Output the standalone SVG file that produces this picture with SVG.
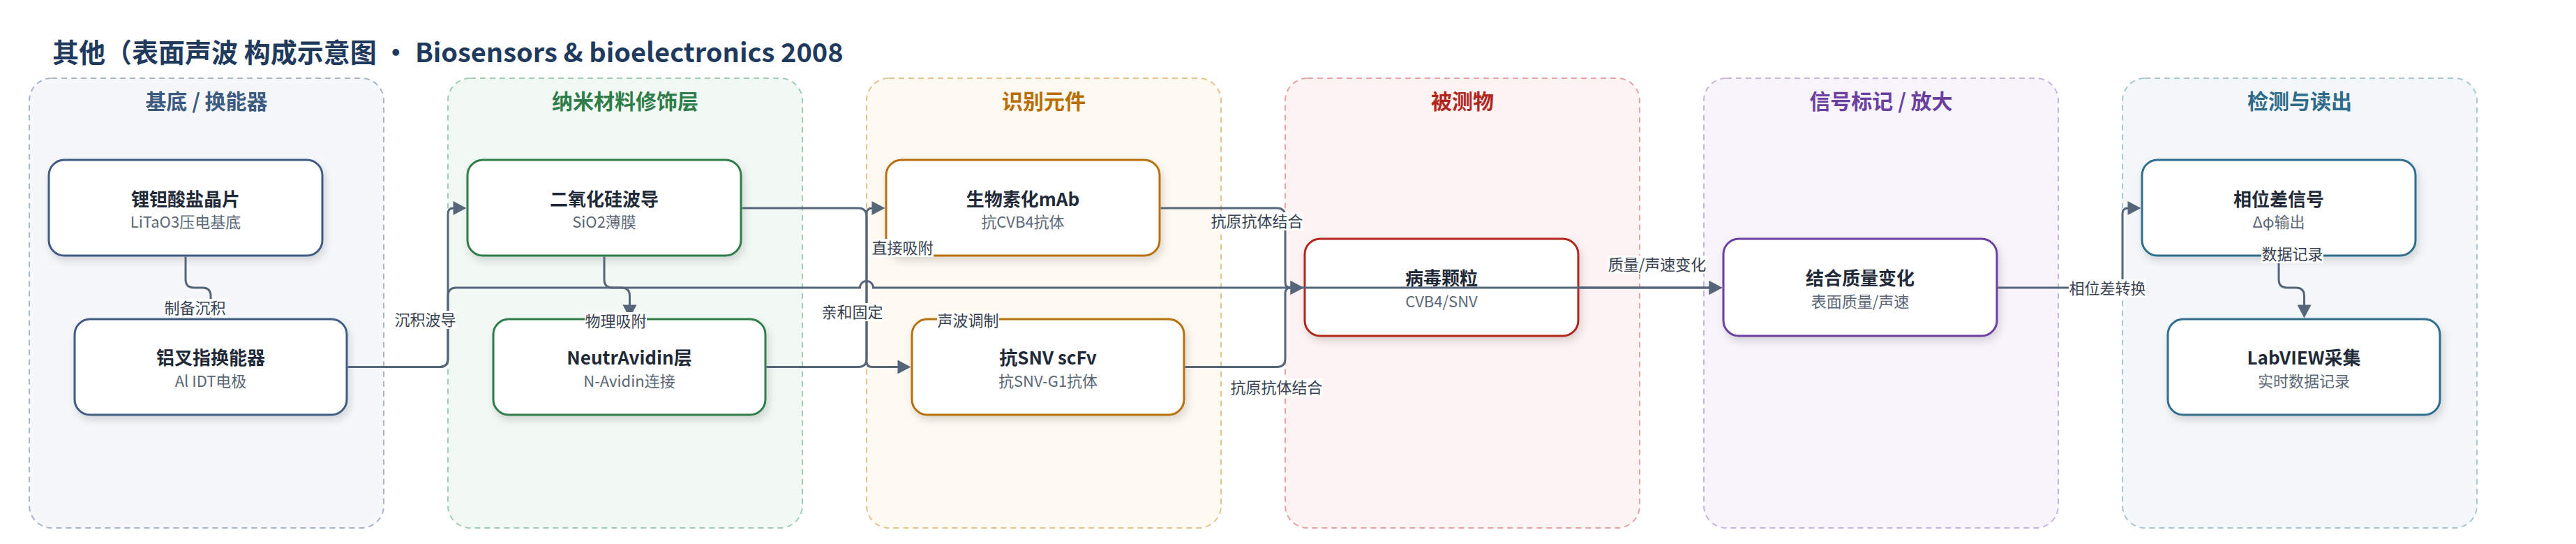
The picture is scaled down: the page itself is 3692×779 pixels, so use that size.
<svg xmlns="http://www.w3.org/2000/svg" width="3692" height="779" viewBox="0 0 3692 779">
<defs>
<style>
text{font-family:"Noto Sans CJK SC","Noto Sans",sans-serif}
.title{font-size:38px;font-weight:700;fill:#1f3a5c}
.ct{font-size:30px;font-weight:700;text-anchor:middle}
.cl{stroke-width:2;stroke-dasharray:8 6}
.nd{fill:#fff;stroke-width:3;filter:url(#sh)}
.nt{font-size:26px;font-weight:700;fill:#1f2937;text-anchor:middle}
.ns{font-size:22px;fill:#5b6776;text-anchor:middle}
.e{fill:none;stroke:#56667a;stroke-width:3}
.ea{marker-end:url(#arr)}
.lb{fill:#fff}
.lt{font-size:22px;fill:#374151;text-anchor:middle}
</style>
<filter id="sh" x="-10%" y="-20%" width="120%" height="150%">
<feDropShadow dx="3" dy="6" stdDeviation="6" flood-color="#000" flood-opacity="0.14"/>
</filter>
<marker id="arr" markerUnits="userSpaceOnUse" markerWidth="20" markerHeight="20" viewBox="0 0 19 20" refX="9" refY="10" orient="auto">
<path d="M0,0 L19,10 L0,20 z" fill="#56667a"/>
</marker>
</defs>
<rect width="3692" height="779" fill="#fff"/>
<text class="title" x="75" y="89">其他（表面声波 构成示意图 · Biosensors &amp; bioelectronics 2008</text>

<g id="clusters">
<g id="cluster-substrate"><rect class="cl" x="42" y="112" width="508" height="644" rx="32" fill="#f5f7fb" stroke="#a7b5c9"/><text class="ct" x="296" y="156" fill="#3d5a80">基底 / 换能器</text></g>
<g id="cluster-nano"><rect class="cl" x="642" y="112" width="508" height="644" rx="32" fill="#f2f8f4" stroke="#9fcfb0"/><text class="ct" x="896" y="156" fill="#2e7d4a">纳米材料修饰层</text></g>
<g id="cluster-recog"><rect class="cl" x="1242" y="112" width="508" height="644" rx="32" fill="#fef9f1" stroke="#e6c38d"/><text class="ct" x="1496" y="156" fill="#b86e00">识别元件</text></g>
<g id="cluster-analyte"><rect class="cl" x="1842" y="112" width="508" height="644" rx="32" fill="#fdf3f3" stroke="#e7a3a3"/><text class="ct" x="2096" y="156" fill="#b3261e">被测物</text></g>
<g id="cluster-signal"><rect class="cl" x="2442" y="112" width="508" height="644" rx="32" fill="#f7f4fc" stroke="#c9b3e3"/><text class="ct" x="2696" y="156" fill="#6b3fa0">信号标记 / 放大</text></g>
<g id="cluster-readout"><rect class="cl" x="3042" y="112" width="508" height="644" rx="32" fill="#f3f7f9" stroke="#a9c6d3"/><text class="ct" x="3296" y="156" fill="#2e6b8a">检测与读出</text></g>
</g>

<g id="node-litao3"><rect class="nd" x="70" y="229" width="392" height="137" rx="22" stroke="#3f5c84"/><text class="nt" x="266" y="294.5">锂钽酸盐晶片</text><text class="ns" x="266" y="326">LiTaO3压电基底</text></g>
<g id="node-idt"><rect class="nd" x="107" y="457" width="390" height="137" rx="22" stroke="#3f5c84"/><text class="nt" x="302" y="522">铝叉指换能器</text><text class="ns" x="302" y="553.5">Al IDT电极</text></g>
<g id="node-sio2"><rect class="nd" x="670" y="229" width="392" height="137" rx="22" stroke="#2f7d4a"/><text class="nt" x="866" y="294.5">二氧化硅波导</text><text class="ns" x="866" y="326">SiO2薄膜</text></g>
<g id="node-neutravidin"><rect class="nd" x="707" y="457" width="390" height="137" rx="22" stroke="#2f7d4a"/><text class="nt" x="902" y="522">NeutrAvidin层</text><text class="ns" x="902" y="553.5">N-Avidin连接</text></g>
<g id="node-mab"><rect class="nd" x="1270" y="229" width="392" height="137" rx="22" stroke="#b8700a"/><text class="nt" x="1466" y="294.5">生物素化mAb</text><text class="ns" x="1466" y="326">抗CVB4抗体</text></g>
<g id="node-scfv"><rect class="nd" x="1307" y="457" width="390" height="137" rx="22" stroke="#b8700a"/><text class="nt" x="1502" y="522">抗SNV scFv</text><text class="ns" x="1502" y="553.5">抗SNV-G1抗体</text></g>
<g id="node-virus"><rect class="nd" x="1870" y="342" width="392" height="139" rx="22" stroke="#b3261e"/><text class="nt" x="2066" y="408">病毒颗粒</text><text class="ns" x="2066" y="440">CVB4/SNV</text></g>
<g id="node-mass"><rect class="nd" x="2470" y="342" width="392" height="139" rx="22" stroke="#6a3fa0"/><text class="nt" x="2666" y="408">结合质量变化</text><text class="ns" x="2666" y="440">表面质量/声速</text></g>
<g id="node-phase"><rect class="nd" x="3070" y="229" width="392" height="137" rx="22" stroke="#2f6d8c"/><text class="nt" x="3266" y="294.5">相位差信号</text><text class="ns" x="3266" y="326">Δφ输出</text></g>
<g id="node-labview"><rect class="nd" x="3107" y="457" width="390" height="137" rx="22" stroke="#2f6d8c"/><text class="nt" x="3302" y="522">LabVIEW采集</text><text class="ns" x="3302" y="553.5">实时数据记录</text></g>

<g id="connectors">
<path class="e ea" d="M266,367.5 V400 Q266,412 278,412 H290 Q302,412 302,424 V445.5"/>
<path class="e ea" d="M498.5,525.5 H630 Q642,525.5 642,513.5 V306 Q642,298 650,298 H658.5"/>
<path class="e ea" d="M498.5,525.5 H630 Q642,525.5 642,513.5 V424 Q642,412 654,412 H1232.5 A9.5,9.5 0 0 1 1251.5,412 H2458.5"/>
<path class="e ea" d="M866,367.5 V400 Q866,412 878,412 H890.5 Q902.5,412 902.5,424 V445.5"/>
<path class="e ea" d="M1063.5,298 H1230 Q1242,298 1242,310 V517.5 Q1242,525.5 1250,525.5 H1295.5"/>
<path class="e ea" d="M1098.5,525.5 H1230 Q1242,525.5 1242,513.5 V306 Q1242,298 1250,298 H1258.5"/>
<path class="e ea" d="M1663.5,298 H1830 Q1842,298 1842,310 V404 Q1842,412 1850,412 H1858.5"/>
<path class="e ea" d="M1698.5,525.5 H1830 Q1842,525.5 1842,513.5 V420 Q1842,412 1850,412 H1858.5"/>
<path class="e ea" d="M2263.5,412 H2458.5"/>
<path class="e ea" d="M2863.5,412 H3030 Q3042,412 3042,400 V306 Q3042,298 3050,298 H3058.5"/>
<path class="e ea" d="M3266,367.5 V400 Q3266,412 3278,412 H3290.5 Q3302.5,412 3302.5,424 V445.5"/>
<g id="edge-labels">
<rect class="lb" x="235" y="428" width="89" height="26"/><text class="lt" x="279.5" y="449">制备沉积</text>
<rect class="lb" x="565" y="445" width="89" height="26"/><text class="lt" x="609.5" y="466">沉积波导</text>
<rect class="lb" x="838" y="447" width="89" height="26"/><text class="lt" x="882.5" y="468">物理吸附</text>
<rect class="lb" x="1249" y="342" width="89" height="26"/><text class="lt" x="1293.5" y="363">直接吸附</text>
<rect class="lb" x="1177" y="434" width="89" height="26"/><text class="lt" x="1221.5" y="455">亲和固定</text>
<rect class="lb" x="1343" y="446" width="89" height="26"/><text class="lt" x="1387.5" y="467">声波调制</text>
<rect class="lb" x="1735" y="304" width="133" height="26"/><text class="lt" x="1801.5" y="325">抗原抗体结合</text>
<rect class="lb" x="1763" y="542" width="133" height="26"/><text class="lt" x="1829.5" y="563">抗原抗体结合</text>
<rect class="lb" x="2304" y="366" width="142" height="26"/><text class="lt" x="2375" y="387">质量/声速变化</text>
<rect class="lb" x="2965" y="400" width="111" height="26"/><text class="lt" x="3020.5" y="421">相位差转换</text>
<rect class="lb" x="3241" y="351" width="89" height="26"/><text class="lt" x="3285.5" y="372">数据记录</text>
</g>
</g>
</svg>
